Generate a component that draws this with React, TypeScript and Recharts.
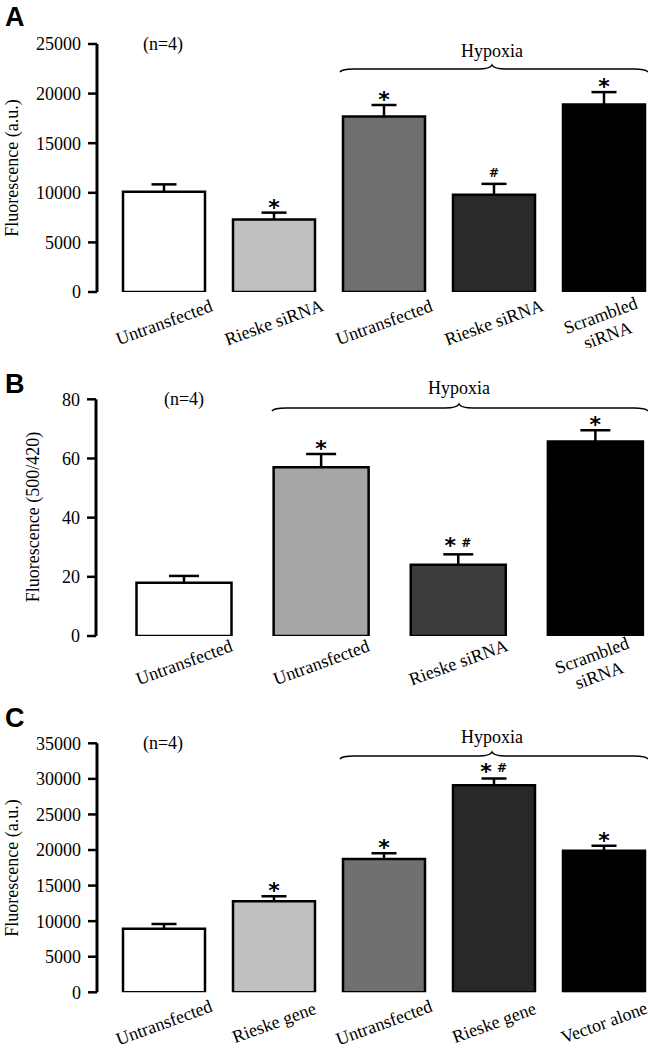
import React from 'react';
import { BarChart, Bar, XAxis, YAxis, Cell } from 'recharts';

const SERIF = '"Liberation Serif", "Times New Roman", serif';
const SANS = '"DejaVu Sans", "Liberation Sans", sans-serif';
const LETTER = '"Liberation Sans", Arial, sans-serif';

// ---------- Panel A ----------
const categoriesA = ['Untransfected', 'Rieske siRNA', 'Untransfected', 'Rieske siRNA', 'Scrambled\nsiRNA'];
const valuesA = [10100, 7300, 17700, 9800, 18900];
const errorsA = [750, 700, 1150, 1100, 1250];
const marksA = ['', '*', '*', '#', '*'];
const ticksA = [0, 5000, 10000, 15000, 20000, 25000];
const fillsA = ['#ffffff', '#c0c0c0', '#6e6e6e', '#2b2b2b', '#000000'];

// ---------- Panel B ----------
const categoriesB = ['Untransfected', 'Untransfected', 'Rieske siRNA', 'Scrambled\nsiRNA'];
const valuesB = [18, 57, 24.1, 65.7];
const errorsB = [2.3, 4.5, 3.5, 3.8];
const marksB = ['', '*', '* #', '*'];
const ticksB = [0, 20, 40, 60, 80];
const fillsB = ['#ffffff', '#a6a6a6', '#3c3c3c', '#000000'];

// ---------- Panel C ----------
const categoriesC = ['Untransfected', 'Rieske gene', 'Untransfected', 'Rieske gene', 'Vector alone'];
const valuesC = [8950, 12800, 18750, 29100, 19900];
const errorsC = [650, 700, 800, 950, 700];
const marksC = ['', '*', '*', '* #', '*'];
const ticksC = [0, 5000, 10000, 15000, 20000, 25000, 30000, 35000];
const fillsC = ['#ffffff', '#c0c0c0', '#707070', '#282828', '#000000'];

const makeWhisker = (capW: number, comboLift: number) => (props: any) => {
  const { x, y, width, height, payload } = props;
  const cx = x + width / 2;
  const mark: string = payload?.mark ?? '';
  const parts = mark.split(' ').filter(Boolean);
  const drawMark = (m: string, mx: number, lift: number, key: string) =>
    m === '*' ? (
      <text key={key} x={mx} y={y + 2 - lift} textAnchor="middle" fontFamily={SANS} fontWeight={700} fontSize={22} fill="#000">*</text>
    ) : (
      <text key={key} x={mx} y={y - 7} textAnchor="middle" fontFamily={SANS} fontWeight={700} fontSize={12} fill="#000">#</text>
    );
  return (
    <g>
      <line x1={cx} y1={y + height} x2={cx} y2={y} stroke="#000" strokeWidth={2.5} />
      <line x1={cx - capW / 2} y1={y} x2={cx + capW / 2} y2={y} stroke="#000" strokeWidth={2.5} />
      {parts.length === 1 && drawMark(parts[0], cx, 0, 'm0')}
      {parts.length === 2 && [drawMark(parts[0], cx - 8, comboLift, 'm0'), drawMark(parts[1], cx + 8, comboLift, 'm1')]}
    </g>
  );
};

const makeTick = (cats: string[], dy: number) => (props: any) => {
  const { x, y, payload } = props;
  const label = cats[Number(payload.value)] ?? '';
  const lines = label.split('\n');
  const lh = 21;
  const cy = y + dy + (lines.length > 1 ? 3 : 0);
  return (
    <g transform={`translate(${x},${cy}) rotate(-20)`}>
      <text textAnchor="middle" fontFamily={SERIF} fontSize={18} fill="#000">
        {lines.map((l, i) => (
          <tspan key={i} x={0} y={(i - (lines.length - 1) / 2) * lh} dy="0.35em">{l}</tspan>
        ))}
      </text>
    </g>
  );
};

type PanelProps = {
  cats: string[];
  vals: number[];
  errs: number[];
  marks: string[];
  ticks: number[];
  fills: string[];
  top: number;
  height: number;
  width: number;
  marginTop: number;
  axisW: number;
  padLeft: number;
  barSize: number;
  capW: number;
  tickDy: number;
  comboLift: number;
};

function Panel(p: PanelProps) {
  const data = p.cats.map((c, i) => ({ k: String(i), value: p.vals[i], err: p.errs[i], mark: p.marks[i] }));
  const max = p.ticks[p.ticks.length - 1];
  return (
    <div style={{ position: 'absolute', left: 0, top: p.top, width: p.width, height: p.height }}>
      <BarChart width={p.width} height={p.height} data={data} margin={{ top: p.marginTop, right: 0, bottom: 0, left: 0 }}>
        <XAxis
          dataKey="k"
          type="category"
          height={56}
          axisLine={false}
          tickLine={false}
          tickSize={0}
          tickMargin={0}
          interval={0}
          padding={{ left: p.padLeft, right: 0 }}
          tick={makeTick(p.cats, p.tickDy)}
        />
        <YAxis
          type="number"
          domain={[0, max]}
          ticks={p.ticks}
          width={p.axisW}
          tickSize={9}
          tickMargin={7}
          interval={0}
          allowDataOverflow
          axisLine={{ stroke: '#000', strokeWidth: 3 }}
          tickLine={{ stroke: '#000', strokeWidth: 2.5 }}
          tick={{ fill: '#000', fontSize: 18, fontFamily: SERIF }}
        />
        <Bar dataKey="value" stackId="s" barSize={p.barSize} stroke="#000" strokeWidth={2.5} isAnimationActive={false}>
          {data.map((d, i) => (
            <Cell key={d.k} fill={p.fills[i]} />
          ))}
        </Bar>
        <Bar dataKey="err" stackId="s" barSize={p.barSize} fill="none" isAnimationActive={false} shape={makeWhisker(p.capW, p.comboLift)} />
      </BarChart>
    </div>
  );
}

const brace = (x1: number, x2: number, xm: number, y: number) =>
  `M ${x1} ${y + 3} Q ${x1 + 2} ${y} ${x1 + 14} ${y} L ${xm - 14} ${y} Q ${xm - 2} ${y} ${xm} ${y - 4} Q ${xm + 2} ${y} ${xm + 14} ${y} L ${x2 - 14} ${y} Q ${x2 - 2} ${y} ${x2} ${y + 3}`;

export default function App() {
  return (
    <div style={{ position: 'absolute', left: 0, top: 0, width: 648, height: 1048, overflow: 'hidden', background: '#fff' }}>
      <Panel cats={categoriesA} vals={valuesA} errs={errorsA} marks={marksA} ticks={ticksA} fills={fillsA}
        top={0} height={348} width={659} marginTop={44} axisW={97} padLeft={12} barSize={82} capW={25} tickDy={30} comboLift={3} />
      <Panel cats={categoriesB} vals={valuesB} errs={errorsB} marks={marksB} ticks={ticksB} fills={fillsB}
        top={355} height={337} width={664} marginTop={44.3} axisW={96} padLeft={19.5} barSize={95} capW={30} tickDy={26} comboLift={3} />
      <Panel cats={categoriesC} vals={valuesC} errs={errorsC} marks={marksC} ticks={ticksC} fills={fillsC}
        top={699} height={349.3} width={659} marginTop={44.3} axisW={97} padLeft={12} barSize={82} capW={25} tickDy={30} comboLift={2} />
      <svg width={648} height={1048} style={{ position: 'absolute', left: 0, top: 0, pointerEvents: 'none' }}>
        {/* panel letters */}
        <text x={5} y={26} fontFamily={LETTER} fontWeight={700} fontSize={27} fill="#000">A</text>
        <text x={5} y={393} fontFamily={LETTER} fontWeight={700} fontSize={27} fill="#000">B</text>
        <text x={5} y={727} fontFamily={LETTER} fontWeight={700} fontSize={27} fill="#000">C</text>
        {/* axis titles */}
        <text transform="translate(12,168) rotate(-90)" textAnchor="middle" dominantBaseline="central" fontFamily={SERIF} fontSize={18} fill="#000">Fluorescence (a.u.)</text>
        <text transform="translate(33,517) rotate(-90)" textAnchor="middle" dominantBaseline="central" fontFamily={SERIF} fontSize={18} fill="#000">Fluorescence (500/420)</text>
        <text transform="translate(12,868) rotate(-90)" textAnchor="middle" dominantBaseline="central" fontFamily={SERIF} fontSize={18} fill="#000">Fluorescence (a.u.)</text>
        {/* n labels */}
        <text x={163} y={44} textAnchor="middle" dominantBaseline="central" fontFamily={SERIF} fontSize={18} fill="#000">(n=4)</text>
        <text x={184} y={399} textAnchor="middle" dominantBaseline="central" fontFamily={SERIF} fontSize={18} fill="#000">(n=4)</text>
        <text x={163} y={743} textAnchor="middle" dominantBaseline="central" fontFamily={SERIF} fontSize={18} fill="#000">(n=4)</text>
        {/* hypoxia labels and braces */}
        <text x={492} y={57} textAnchor="middle" fontFamily={SERIF} fontSize={18} fill="#000">Hypoxia</text>
        <path d={brace(340, 648, 492, 69)} fill="none" stroke="#000" strokeWidth={1.5} />
        <text x={459} y={394} textAnchor="middle" fontFamily={SERIF} fontSize={18} fill="#000">Hypoxia</text>
        <path d={brace(272, 648, 459, 408)} fill="none" stroke="#000" strokeWidth={1.5} />
        <text x={492} y={743} textAnchor="middle" fontFamily={SERIF} fontSize={18} fill="#000">Hypoxia</text>
        <path d={brace(340, 648, 492, 756)} fill="none" stroke="#000" strokeWidth={1.5} />
      </svg>
    </div>
  );
}
